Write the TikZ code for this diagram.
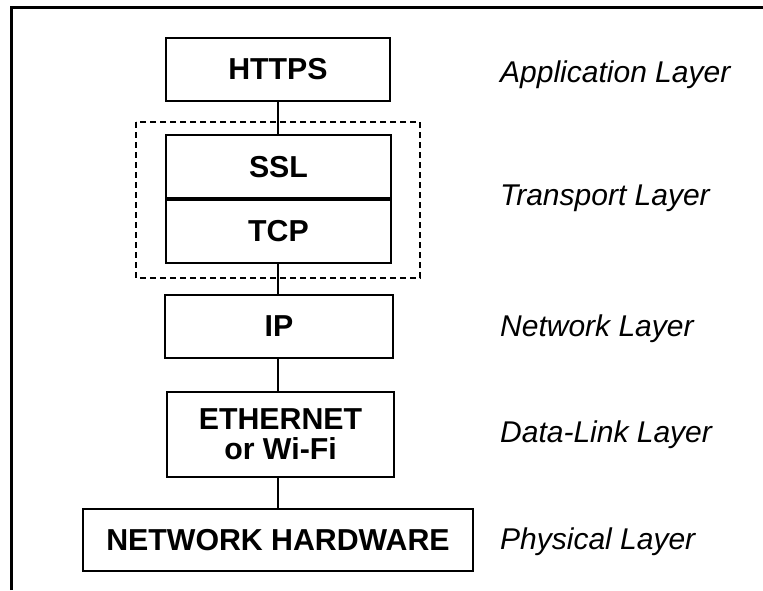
\documentclass[tikz,border=0pt]{standalone}
\usepackage{fontspec}
\setmainfont{Liberation Sans}
\begin{document}
\begin{tikzpicture}[x=1pt,y=-1pt,
  layerbox/.style={draw=black, line width=2.2pt, inner sep=0pt, font=\fontsize{30.3}{30}\selectfont\bfseries, align=center},
  layerlabel/.style={anchor=base west, inner sep=0pt, font=\fontsize{30}{30}\selectfont\itshape},
  conn/.style={line width=2.2pt},
  group/.style={draw=black, line width=2pt, dash pattern=on 6pt off 4pt}]
\useasboundingbox (0,0) rectangle (763,590);
% outer frame (top and left only)
\draw[line width=3pt] (11,590) -- (11,7.5) -- (763,7.5);
% boxes
\node[layerbox, minimum width=224, minimum height=63] (https) at (278,69.5) {HTTPS};
\node[layerbox, minimum width=225, minimum height=63.5] (ssl) at (278.5,166.75) {SSL};
\node[layerbox, minimum width=225, minimum height=63.5] (tcp) at (278.5,231.25) {TCP};
\node[layerbox, minimum width=228, minimum height=63] (ip) at (279,326.5) {IP};
\node[layerbox, minimum width=227, minimum height=85] (eth) at (280.5,434.5) {ETHERNET\\or Wi-Fi};
\node[layerbox, minimum width=390, minimum height=62] (hw) at (278,540) {NETWORK HARDWARE};
% transport group
\draw[group] (136,122) rectangle (420,278);
% connectors
\draw[conn] (https.south -| 278,0) -- (ssl.north -| 278,0);
\draw[conn] (tcp.south -| 278,0) -- (ip.north -| 278,0);
\draw[conn] (ip.south -| 278,0) -- (eth.north -| 278,0);
\draw[conn] (eth.south -| 278,0) -- (hw.north -| 278,0);
% labels
\node[layerlabel] (lapp) at (500,82) {Application Layer};
\node[layerlabel] (ltr) at (500,205) {Transport Layer};
\node[layerlabel] (lnet) at (500,336) {Network Layer};
\node[layerlabel] (ldl) at (500,442) {Data-Link Layer};
\node[layerlabel] (lph) at (500,549) {Physical Layer};
\end{tikzpicture}
\end{document}
